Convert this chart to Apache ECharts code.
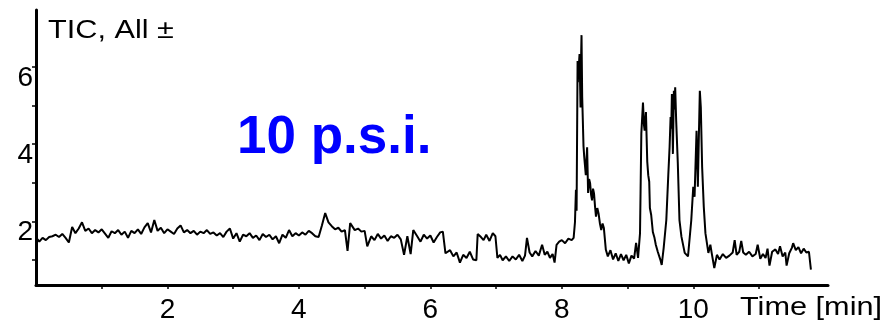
<!DOCTYPE html>
<html>
<head>
<meta charset="utf-8">
<script src="https://cdn.jsdelivr.net/npm/echarts@6/dist/echarts.min.js"></script>
<style>
html, body { margin: 0; padding: 0; background: #fff; }
#chart { width: 888px; height: 325px; }
</style>
</head>
<body>
<div id="chart"></div>
<script>
// TIC trace, [time (min), intensity]
const baselineEarly = [
  [0.00,1.35],[0.02,1.55],[0.05,1.48],[0.10,1.58],[0.15,1.52],[0.20,1.60],
  [0.25,1.62],[0.30,1.66],[0.35,1.60],[0.40,1.68],[0.45,1.58],[0.50,1.46],
  [0.55,1.86],[0.60,1.70],[0.65,1.82],[0.70,1.98],
  [0.75,1.76],[0.80,1.82],[0.85,1.70],[0.90,1.78],[0.95,1.72],[1.00,1.80],[1.05,1.69],[1.10,1.58],
  [1.15,1.75],[1.20,1.70],[1.25,1.78],[1.30,1.66],[1.35,1.74],[1.40,1.58],[1.45,1.76],[1.50,1.70],[1.55,1.80],[1.60,1.68],
  [1.65,1.85],[1.70,1.96],[1.75,1.72],[1.80,2.04],[1.85,1.76],
  [1.90,1.84],[1.95,1.70],[2.00,1.80],[2.05,1.74],[2.10,1.68],[2.15,1.82],[2.20,1.90],[2.25,1.72],[2.30,1.78],
  [2.35,1.70],[2.40,1.76],[2.45,1.66],[2.50,1.74],[2.55,1.70],[2.60,1.78],[2.65,1.68],
  [2.70,1.72],[2.75,1.64],[2.80,1.70],[2.85,1.60],[2.90,1.74],[2.95,1.82],[3.00,1.56],[3.05,1.70],[3.10,1.48],
  [3.15,1.66],[3.20,1.62],[3.25,1.70],[3.30,1.58],[3.35,1.64],[3.40,1.52],[3.45,1.68],[3.50,1.60],[3.55,1.66],
  [3.60,1.54],[3.65,1.62],[3.70,1.44],[3.75,1.66],[3.80,1.58],[3.85,1.78],[3.90,1.62],[3.95,1.70],[4.00,1.64],
  [4.05,1.72],[4.10,1.66],[4.15,1.76],[4.20,1.70],[4.25,1.62],[4.30,1.60],
  [4.35,1.90],[4.40,2.22],[4.45,1.98],
  [4.50,1.88],[4.55,1.80],[4.60,1.84],[4.65,1.74],[4.70,1.78],[4.74,1.24],
  [4.78,1.96],[4.85,1.78],[4.90,1.82],[4.95,1.74],[5.00,1.76],[5.04,1.36],
  [5.10,1.62],[5.15,1.52],[5.20,1.68],[5.25,1.56],[5.30,1.64],[5.35,1.50],[5.40,1.62],[5.45,1.58],[5.50,1.66],[5.55,1.54],
  [5.60,1.14],[5.65,1.62],[5.70,1.16],[5.74,1.78],
  [5.80,1.62],[5.85,1.48],[5.90,1.66],[5.95,1.56],[6.00,1.64],[6.05,1.46],[6.10,1.60],[6.15,1.72],[6.19,1.74],
  [6.23,1.18],[6.30,1.26],[6.35,1.10],[6.40,1.20],[6.45,0.94],[6.50,1.14],[6.55,1.06],[6.60,1.22],[6.65,1.02],[6.70,1.00],
  [6.72,1.68],[6.77,1.60],[6.81,1.52],[6.85,1.66],[6.90,1.50],[6.95,1.70],[6.99,1.62],
  [7.02,1.06],[7.06,1.14],[7.10,1.00],[7.15,1.10],[7.20,0.98],[7.25,1.10],[7.30,1.02],[7.35,1.14],[7.40,0.98],[7.44,1.12],[7.47,1.58],
  [7.51,1.20],[7.55,1.10],[7.60,1.24],[7.65,1.12],[7.70,1.40],[7.74,1.14],[7.78,1.22],[7.82,1.06],[7.86,1.16],[7.89,0.94],
  [7.92,1.40],[7.96,1.48],[8.00,1.52],[8.05,1.44],[8.10,1.56],[8.15,1.52],[8.18,1.58]
];

const peakRegion = [
  [8.20,1.98],[8.215,2.82],[8.225,2.28],[8.24,6.15],[8.245,5.60],[8.25,6.05],[8.255,5.70],[8.265,6.20],[8.27,6.33],
  [8.28,5.40],[8.285,4.95],[8.295,6.40],[8.30,6.82],[8.31,5.22],[8.32,4.60],
  [8.33,3.95],[8.34,3.70],[8.35,3.50],[8.365,3.20],[8.385,3.92],[8.40,2.74],[8.415,3.10],[8.43,3.00],[8.445,2.70],
  [8.46,2.55],[8.475,2.85],[8.49,2.73],[8.505,2.40],[8.52,2.13],[8.54,2.35],[8.56,2.20],[8.58,1.95],
  [8.60,1.78],[8.62,1.95],[8.64,1.83],[8.67,1.27],[8.70,1.10],[8.74,1.26],[8.78,1.02],[8.82,1.18],[8.86,0.98],[8.90,1.16],
  [8.94,1.00],[8.98,1.14],[9.02,0.92],[9.06,1.12],[9.10,1.04],[9.13,1.45],[9.16,1.06],[9.19,1.70],
  [9.21,4.28],[9.22,4.60],[9.235,5.08],[9.25,4.50],[9.26,4.35],[9.28,4.83],[9.30,3.55],[9.315,3.20],[9.33,3.03],[9.34,2.35],[9.36,2.17],
  [9.385,1.73],[9.41,1.58],[9.43,1.40],[9.46,1.22],[9.50,1.01],[9.52,0.88],[9.55,1.32],
  [9.59,2.04],[9.62,3.20],[9.64,3.93],[9.655,4.70],[9.665,4.40],[9.675,5.30],[9.69,3.75],[9.705,5.38],[9.715,4.90],[9.725,5.47],[9.74,4.61],[9.765,3.50],
  [9.79,2.04],[9.82,1.61],[9.87,1.19],[9.92,1.10],
  [9.97,2.04],[10.00,2.90],[10.02,2.64],[10.05,4.35],[10.07,2.90],[10.085,4.20],[10.10,5.38],[10.115,4.95],[10.135,3.41],
  [10.16,2.38],[10.185,1.70],[10.23,1.19],[10.26,1.40],[10.28,1.19],[10.32,0.80],[10.36,1.14]
];

const baselineLate = [
  [10.40,1.02],[10.45,1.16],[10.50,1.06],[10.55,1.12],[10.60,1.20],[10.63,1.52],[10.66,1.14],[10.70,1.22],
  [10.73,1.50],[10.76,1.20],[10.80,1.14],[10.85,1.22],[10.90,1.10],[10.95,1.16],[10.98,1.40],[11.02,1.04],
  [11.06,1.16],[11.10,1.06],[11.13,1.30],[11.16,0.86],[11.20,1.22],[11.25,1.28],[11.29,1.16],[11.32,1.36],
  [11.36,1.10],[11.40,1.20],[11.42,0.86],[11.46,1.18],[11.50,1.32],[11.52,1.44],[11.56,1.26],[11.60,1.34],
  [11.64,1.18],[11.68,1.30],[11.72,1.20],[11.76,1.22],[11.79,0.76]
];

const xTicks = [1, 2, 3, 4, 5, 6, 7, 8, 9, 10, 11];
const xLabels = [2, 4, 6, 8, 10];
const yTicks = [1, 2, 3, 4, 5, 6];
const yLabels = [2, 4, 6];

const trace = baselineEarly.concat(peakRegion, baselineLate);

const font = '"Liberation Sans", Arial, sans-serif';

const chart = echarts.init(document.getElementById('chart'));
chart.setOption({
  animation: false,
  grid: { left: 36, right: 60, top: 10, bottom: 40, containLabel: false, outerBoundsMode: 'none' },
  xAxis: {
    type: 'value',
    min: 0,
    max: 12.05,
    axisLine: { show: true, onZero: false, lineStyle: { color: '#000', width: 3 } },
    axisTick: { show: true, customValues: xTicks, length: 4, lineStyle: { color: '#000', width: 1.5 } },
    axisLabel: { customValues: xLabels, color: '#000', fontSize: 28, fontFamily: font, margin: 11 },
    splitLine: { show: false }
  },
  yAxis: {
    type: 'value',
    min: 0.36,
    max: 7.47,
    axisLine: { show: true, onZero: false, lineStyle: { color: '#000', width: 3 } },
    axisTick: { show: true, customValues: yTicks, length: 4, lineStyle: { color: '#000', width: 1.5 } },
    axisLabel: {
      customValues: yLabels, color: '#000', fontSize: 28, fontFamily: font, margin: 3,
      verticalAlign: 'top', lineHeight: 22
    },
    splitLine: { show: false }
  },
  series: [{
    type: 'line',
    data: trace,
    showSymbol: false,
    symbol: 'none',
    lineStyle: { color: '#000', width: 2 },
    silent: true
  }],
  graphic: [
    {
      type: 'text', x: 48, y: 31, scaleX: 1.18,
      style: { text: 'TIC, All ±', font: '26px ' + font, fill: '#000', textVerticalAlign: 'middle', verticalAlign: 'middle' }
    },
    {
      type: 'text', x: 740, y: 308, scaleX: 1.18,
      style: { text: 'Time [min]', font: '26px ' + font, fill: '#000', textVerticalAlign: 'middle', verticalAlign: 'middle' }
    },
    {
      type: 'text', x: 237, y: 138,
      style: { text: '10 p.s.i.', font: 'bold 53px ' + font, fill: '#0000ff', textVerticalAlign: 'middle', verticalAlign: 'middle' }
    }
  ]
});
</script>
</body>
</html>
